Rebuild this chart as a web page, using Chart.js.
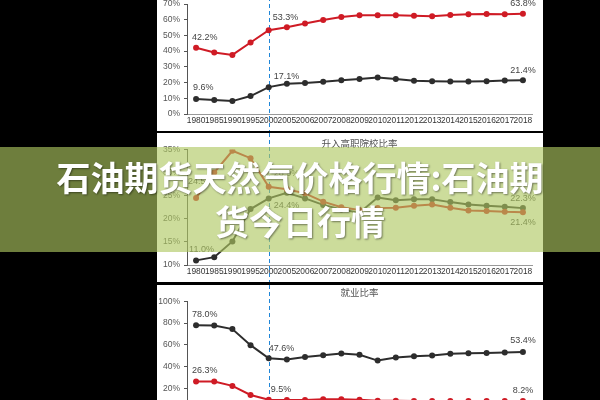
<!DOCTYPE html>
<html>
<head>
<meta charset="utf-8">
<script src="https://cdn.jsdelivr.net/npm/chart.js@4"></script>
<style>
  html, body { margin: 0; padding: 0; width: 600px; height: 400px; overflow: hidden; background: #000; }
  .panel { position: absolute; left: 157px; width: 386px; background: #fff; }
  #p1 { top: -10px; height: 141px; }
  #p2 { top: 133px; height: 149px; }
  #p3 { top: 285px; height: 142px; }
  .banner { position: absolute; left: 0; top: 147px; width: 600px; height: 105px; background: rgba(175, 199, 96, 0.63); }
  .banner p { margin: 0; padding-top: 8px; text-align: center; color: #fff;
    font: bold 34px/44px "Noto Sans CJK SC", sans-serif; text-shadow: 1px 1px 2px rgba(0, 0, 0, 0.45); }
</style>
</head>
<body>
<div class="panel" id="p1"><canvas id="c1"></canvas></div>
<div class="panel" id="p2"><canvas id="c2"></canvas></div>
<div class="panel" id="p3"><canvas id="c3"></canvas></div>
<div class="banner"><p>石油期货天然气价格行情:石油期<br>货今日行情</p></div>
<script>
const years = ["1980", "1985", "1990", "1995", "2000", "2005", "2006", "2007", "2008", "2009",
  "2010", "2011", "2012", "2013", "2014", "2015", "2016", "2017", "2018"];
const markYear = "2000";

// top panel
const topRed = [42.2, 39.2, 37.6, 45.5, 53.3, 55.2, 57.6, 59.8, 61.7, 62.8, 62.8, 62.8, 62.6, 62.2, 63.0, 63.4, 63.6, 63.5, 63.8];
const topBlack = [9.6, 8.9, 8.2, 11.4, 17.1, 19.2, 19.7, 20.5, 21.4, 22.2, 23.3, 22.2, 21.1, 20.9, 20.7, 20.7, 20.9, 21.3, 21.4];
const topTicks = [0, 70, 10];

// 升入高职院校比率
const vocTitle = "升入高职院校比率";
const vocRed = [24.5, 30.0, 34.7, 33.1, 26.9, 26.4, 25.5, 23.7, 22.5, 21.9, 22.3, 22.4, 22.8, 23.1, 22.4, 21.8, 21.7, 21.5, 21.4];
const vocBlack = [11.0, 11.7, 15.1, 22.1, 24.4, 25.6, 24.4, 23.0, 22.0, 21.3, 24.6, 24.0, 24.2, 24.2, 23.6, 23.1, 22.8, 22.6, 22.3];
const vocTicks = [10, 35, 5];

// 就业比率
const jobTitle = "就业比率";
const jobBlack = [78.0, 77.8, 74.5, 59.7, 47.6, 46.5, 48.9, 50.5, 52.0, 50.8, 45.5, 48.3, 49.5, 50.2, 51.7, 52.3, 52.6, 52.9, 53.4];
const jobRed = [26.3, 26.2, 22.2, 13.8, 9.5, 9.2, 9.2, 9.8, 9.8, 9.5, 8.5, 8.6, 8.4, 8.3, 8.4, 8.3, 8.3, 8.2, 8.2];
const jobTicks = [0, 100, 20];

const RED = "#cf1b25";
const BLACK = "#2d2d2d";

Chart.defaults.font.family = "'Liberation Sans', Arial, sans-serif";
Chart.defaults.animation = false;

// dashed marker at 2000, full canvas height
const markLine = {
  id: "markLine",
  beforeDatasetsDraw(chart) {
    const x = Math.round(chart.scales.x.getPixelForValue(years.indexOf(markYear))) + 0.5;
    const ctx = chart.ctx;
    ctx.save();
    ctx.strokeStyle = "#1f86d8";
    ctx.lineWidth = 1;
    ctx.setLineDash([4, 3]);
    ctx.beginPath();
    ctx.moveTo(x, 0);
    ctx.lineTo(x, chart.height);
    ctx.stroke();
    ctx.restore();
  }
};

// value labels next to chosen points
function pointLabels(items) {
  return {
    id: "pointLabels",
    afterDatasetsDraw(chart) {
      const ctx = chart.ctx;
      ctx.save();
      ctx.font = "9px 'Liberation Sans', Arial, sans-serif";
      ctx.fillStyle = "#444";
      ctx.textBaseline = "middle";
      items.forEach(({ ds, i, dx, dy, align }) => {
        const pt = chart.getDatasetMeta(ds).data[i];
        const v = chart.data.datasets[ds].data[i];
        ctx.textAlign = align;
        ctx.fillText(v.toFixed(1) + "%", pt.x + dx, pt.y + dy);
      });
      ctx.restore();
    }
  };
}

function buildChart(id, title, red, black, ticks, items, padTop, titlePad) {
  const [yMin, yMax, yStep] = ticks;
  return new Chart(document.getElementById(id), {
    type: "line",
    data: {
      labels: years,
      datasets: [
        { data: red, borderColor: RED, backgroundColor: RED, borderWidth: 2, pointRadius: 3, pointBorderWidth: 0 },
        { data: black, borderColor: BLACK, backgroundColor: BLACK, borderWidth: 2, pointRadius: 3, pointBorderWidth: 0 }
      ]
    },
    options: {
      responsive: true,
      maintainAspectRatio: false,
      layout: { padding: { top: padTop, right: 11, left: 0, bottom: 0 } },
      plugins: {
        legend: { display: false },
        tooltip: { enabled: false },
        title: {
          display: !!title,
          text: title,
          fullSize: false,
          color: "#555",
          font: { size: 9.5, weight: "normal", family: "'Noto Sans CJK SC', sans-serif" },
          padding: titlePad
        }
      },
      scales: {
        x: {
          offset: true,
          grid: { display: false, drawTicks: false },
          border: { display: true, color: "#999" },
          ticks: { autoSkip: false, maxRotation: 0, minRotation: 0, padding: 2, color: "#333", font: { size: 8.4 } },
          afterFit: (s) => { s.height = 17; }
        },
        y: {
          min: yMin,
          max: yMax,
          grid: { drawOnChartArea: false, drawTicks: true, tickLength: 3, color: "#555" },
          border: { display: true, color: "#555" },
          ticks: { stepSize: yStep, padding: 4, color: "#555", font: { size: 8.5 }, callback: (v) => v + "%" },
          afterFit: (s) => { s.width = 30; }
        }
      }
    },
    plugins: [markLine, pointLabels(items)]
  });
}

// Chart 1
buildChart("c1", "", topRed, topBlack, topTicks, [
  { ds: 0, i: 0, dx: -4, dy: -10, align: "left" },
  { ds: 0, i: 4, dx: 4, dy: -13, align: "left" },
  { ds: 0, i: 18, dx: 0, dy: -10, align: "center" },
  { ds: 1, i: 0, dx: -3, dy: -11, align: "left" },
  { ds: 1, i: 4, dx: 5, dy: -11, align: "left" },
  { ds: 1, i: 18, dx: 0, dy: -10, align: "center" }
], 14, 0);

// Chart 2: 升入高职院校比率
buildChart("c2", vocTitle, vocRed, vocBlack, vocTicks, [
  { ds: 0, i: 0, dx: -8, dy: -16, align: "left" },
  { ds: 0, i: 4, dx: 5, dy: -13, align: "left" },
  { ds: 0, i: 18, dx: 0, dy: 10, align: "center" },
  { ds: 1, i: 0, dx: -7, dy: -11, align: "left" },
  { ds: 1, i: 4, dx: 5, dy: 7, align: "left" },
  { ds: 1, i: 18, dx: 0, dy: -10, align: "center" }
], 0, { top: 5, bottom: 0 });

// Chart 3: 就业比率
buildChart("c3", jobTitle, jobRed, jobBlack, jobTicks, [
  { ds: 0, i: 0, dx: -4, dy: -11, align: "left" },
  { ds: 0, i: 4, dx: 2, dy: -10, align: "left" },
  { ds: 0, i: 18, dx: 0, dy: -11, align: "center" },
  { ds: 1, i: 0, dx: -4, dy: -11, align: "left" },
  { ds: 1, i: 4, dx: 0, dy: -10, align: "left" },
  { ds: 1, i: 18, dx: 0, dy: -11, align: "center" }
], 0, { top: 2, bottom: 3 });
</script>
</body>
</html>
